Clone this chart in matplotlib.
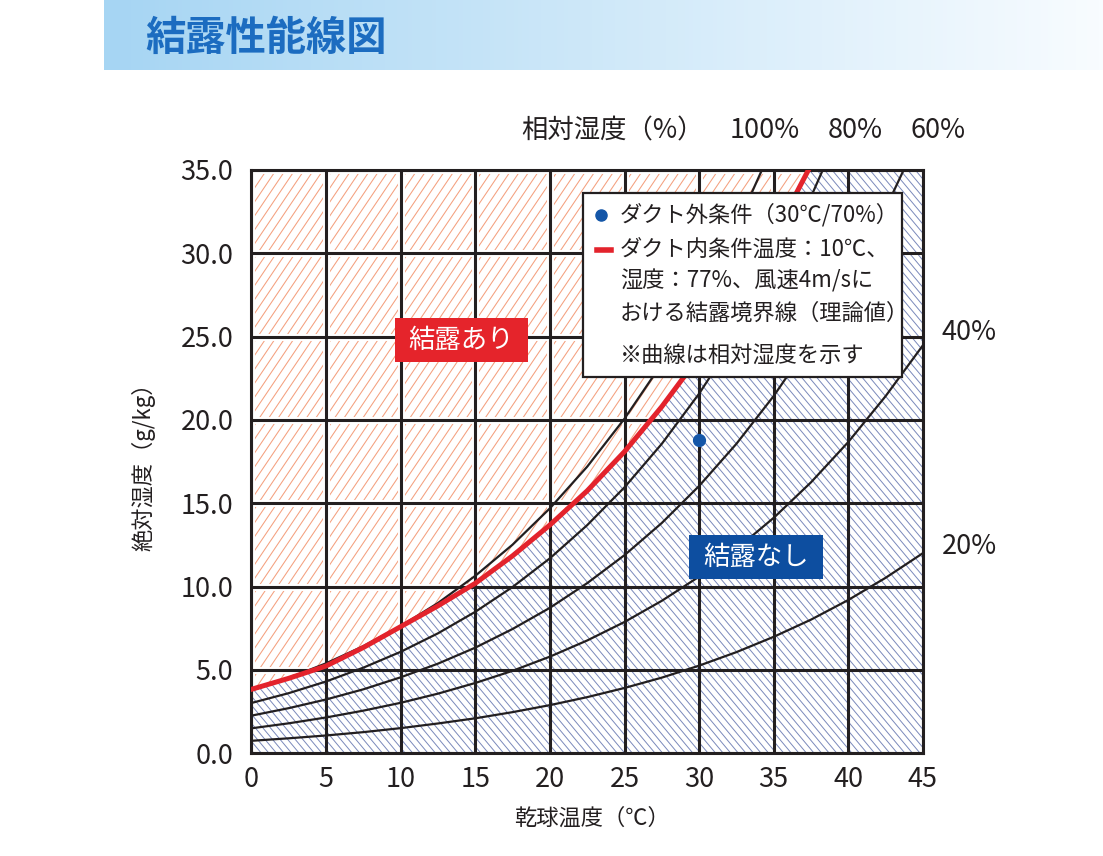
import numpy as np
import matplotlib
matplotlib.use('Agg')
import matplotlib.pyplot as plt
from matplotlib.patches import Polygon, Rectangle
from matplotlib.collections import LineCollection
from matplotlib.lines import Line2D
from matplotlib.colors import LinearSegmentedColormap

plt.rcParams['font.family'] = ['Noto Sans CJK JP', 'DejaVu Sans']

# Data
temp = [0, 2.5, 5, 7.5, 10, 12.5, 15, 17.5, 20, 22.5, 25, 27.5, 30, 32.5, 35, 37.5, 40, 42.5, 45]
rh100 = [3.77, 4.52, 5.40, 6.43, 7.63, 9.02, 10.65, 12.52, 14.70, 17.20, 20.08, 23.38, 27.20, 31.58, 36.58]
rh80 = [3.02, 3.61, 4.31, 5.14, 6.09, 7.20, 8.49, 9.98, 11.70, 13.69, 15.96, 18.57, 21.58, 25.01, 28.92, 33.39, 38.51]
rh60 = [2.26, 2.71, 3.23, 3.84, 4.56, 5.38, 6.34, 7.46, 8.73, 10.21, 11.89, 13.82, 16.04, 18.57, 21.44, 24.71, 28.44, 32.69, 37.46]
rh40 = [1.50, 1.80, 2.15, 2.56, 3.03, 3.58, 4.22, 4.95, 5.80, 6.77, 7.88, 9.15, 10.60, 12.26, 14.13, 16.26, 18.68, 21.43, 24.48]
rh20 = [0.75, 0.90, 1.07, 1.27, 1.51, 1.79, 2.10, 2.47, 2.89, 3.37, 3.92, 4.54, 5.26, 6.07, 6.99, 8.02, 9.20, 10.53, 12.01]
boundary = [3.84, 4.50, 5.24, 6.35, 7.60, 8.85, 10.20, 11.85, 13.70, 15.75, 18.10, 20.80, 23.80, 27.20, 31.00, 35.30]
outside_t = [30]
outside_h = [18.8]

x_ticks = [0, 5, 10, 15, 20, 25, 30, 35, 40, 45]
x_tick_labels = ['0', '5', '10', '15', '20', '25', '30', '35', '40', '45']
y_ticks = [0, 5, 10, 15, 20, 25, 30, 35]
y_tick_labels = ['0.0', '5.0', '10.0', '15.0', '20.0', '25.0', '30.0', '35.0']
rh_top_labels = ['100%', '80%', '60%']
rh_side_labels = ['40%', '20%']

# Colors
black = '#231f20'
red = '#e3232c'
blue_dot = '#1456a8'
red_hatch = '#f4a07f'
blue_hatch = '#7a89bb'

W, H = 1103, 856
fig = plt.figure(figsize=(W/100, H/100), dpi=100)

def fx(px):
    return px/W

def fy(py):
    return 1 - py/H

# Title banner
bax = fig.add_axes([fx(104), fy(70), 1-fx(104), 70/H])
cmap = LinearSegmentedColormap.from_list('banner', ['#a6d5f3', '#f8fcff'])
bax.imshow(np.linspace(0, 1, 256)[None, :], aspect='auto', cmap=cmap, extent=[0, 1, 0, 1])
bax.axis('off')
fig.text(fx(145), fy(38), '結露性能線図', fontsize=29, fontweight='bold', color='#1c6cc0', va='center', ha='left')

# Main axes
ax_l, ax_r, ax_t, ax_b = 251.5, 922.9, 170.0, 753.3
ax = fig.add_axes([fx(ax_l), fy(ax_b), (ax_r-ax_l)/W, (ax_b-ax_t)/H])
ax.set_xlim(0, 45)
ax.set_ylim(0, 35)

# Regions above / below the boundary curve
curve = list(zip(temp[:len(boundary)], boundary))
red_verts = [(-1, boundary[0])] + curve + [(temp[len(boundary)-1], 40), (-1, 40)]
blue_verts = [(-1, -1), (-1, boundary[0])] + curve + [(temp[len(boundary)-1], 40), (46, 40), (46, -1)]
red_patch = Polygon(red_verts, closed=True, facecolor='none', edgecolor='none')
blue_patch = Polygon(blue_verts, closed=True, facecolor='none', edgecolor='none')
ax.add_patch(red_patch)
ax.add_patch(blue_patch)

def hatch(clip, angle, step, color, lw):
    w = ax_r - ax_l
    h = ax_b - ax_t
    t = np.radians(angle)
    d = np.array([np.cos(t), np.sin(t)])
    n = np.array([-np.sin(t), np.cos(t)])
    L = np.hypot(w, h)
    ctr = np.array([w/2, h/2])
    segs = []
    for c in np.arange(-L, L, step):
        p0 = ctr + c*n - L*d
        p1 = ctr + c*n + L*d
        segs.append([(p0[0]/w, p0[1]/h), (p1[0]/w, p1[1]/h)])
    lc = LineCollection(segs, colors=color, linewidths=lw, transform=ax.transAxes, zorder=1)
    ax.add_collection(lc, autolim=False)
    lc.set_clip_path(clip)
    lc.set_clip_box(ax.bbox)

hatch(red_patch, 56, 7.8, red_hatch, 0.75)
hatch(blue_patch, -50, 5.8, blue_hatch, 0.7)

# white margin round the grid in the red zone
for xv in x_ticks:
    ln, = ax.plot([xv, xv], [0, 35], color='white', lw=5, zorder=1.5)
    ln.set_clip_path(red_patch)
    ln.set_clip_box(ax.bbox)
for yv in y_ticks:
    ln, = ax.plot([0, 45], [yv, yv], color='white', lw=5, zorder=1.5)
    ln.set_clip_path(red_patch)
    ln.set_clip_box(ax.bbox)

ax.set_xticks(x_ticks, x_tick_labels)
ax.set_yticks(y_ticks, y_tick_labels)
ax.tick_params(length=0, labelsize=19.5, colors=black)
ax.tick_params(axis='x', pad=9)
ax.tick_params(axis='y', pad=13)
ax.grid(True, color=black, lw=2.2)
ax.set_axisbelow(False)
for s in ax.spines.values():
    s.set_linewidth(2.2)
    s.set_color(black)

# Relative humidity curves
for vals in [rh100, rh80, rh60, rh40, rh20]:
    ax.plot(temp[:len(vals)], vals, color=black, lw=1.6, zorder=3)
ax.plot(temp[:len(boundary)], boundary, color=red, lw=3.6, zorder=4)
ax.plot(outside_t, outside_h, 'o', color=blue_dot, ms=8.5, zorder=4)

# Axis labels
fig.text(fx(143), fy(461), '絶対湿度（g/kg）', rotation=90, fontsize=16, ha='center', va='center', color=black)
fig.text(fx(592), fy(818), '乾球温度（℃）', fontsize=16, ha='center', va='center', color=black)
fig.text(fx(612), fy(131), '相対湿度（%）', fontsize=19, ha='center', va='center', color=black)
for lab, px in zip(rh_top_labels, [765, 855, 938]):
    fig.text(fx(px), fy(131), lab, fontsize=19.5, ha='center', va='center', color=black)
for lab, py in zip(rh_side_labels, [333, 546]):
    fig.text(fx(942), fy(py), lab, fontsize=19.5, ha='left', va='center', color=black)

# Region labels
fig.add_artist(Rectangle((fx(395), fy(362)), (528-395)/W, (362-318)/H, transform=fig.transFigure,
                         facecolor='#e5242b', edgecolor='none', zorder=5))
fig.text(fx(461.5), fy(340), '結露あり', fontsize=19, color='white', ha='center', va='center', zorder=6)
fig.add_artist(Rectangle((fx(689), fy(579)), (823-689)/W, (579-535)/H, transform=fig.transFigure,
                         facecolor='#0d4ea0', edgecolor='none', zorder=5))
fig.text(fx(756), fy(557), '結露なし', fontsize=19, color='white', ha='center', va='center', zorder=6)

# Legend box
fig.add_artist(Rectangle((fx(583), fy(377)), (902-583)/W, (377-193)/H, transform=fig.transFigure,
                         facecolor='white', edgecolor=black, lw=1.6, zorder=5))
fig.add_artist(Line2D([fx(601)], [fy(215)], marker='o', color=blue_dot, ms=8, transform=fig.transFigure, zorder=6))
fig.add_artist(Line2D([fx(597), fx(611)], [fy(250), fy(250)], color=red, lw=4, transform=fig.transFigure, zorder=6))
legend_lines = [('ダクト外条件（30℃/70%）', 215),
                ('ダクト内条件温度：10℃、', 249),
                ('湿度：77%、風速4m/sに', 281),
                ('おける結露境界線（理論値）', 313),
                ('※曲線は相対湿度を示す', 355)]
for txt, py in legend_lines:
    fig.text(fx(620), fy(py), txt, fontsize=16, ha='left', va='center', color=black, zorder=6)

fig.savefig('out.png', dpi=100)
